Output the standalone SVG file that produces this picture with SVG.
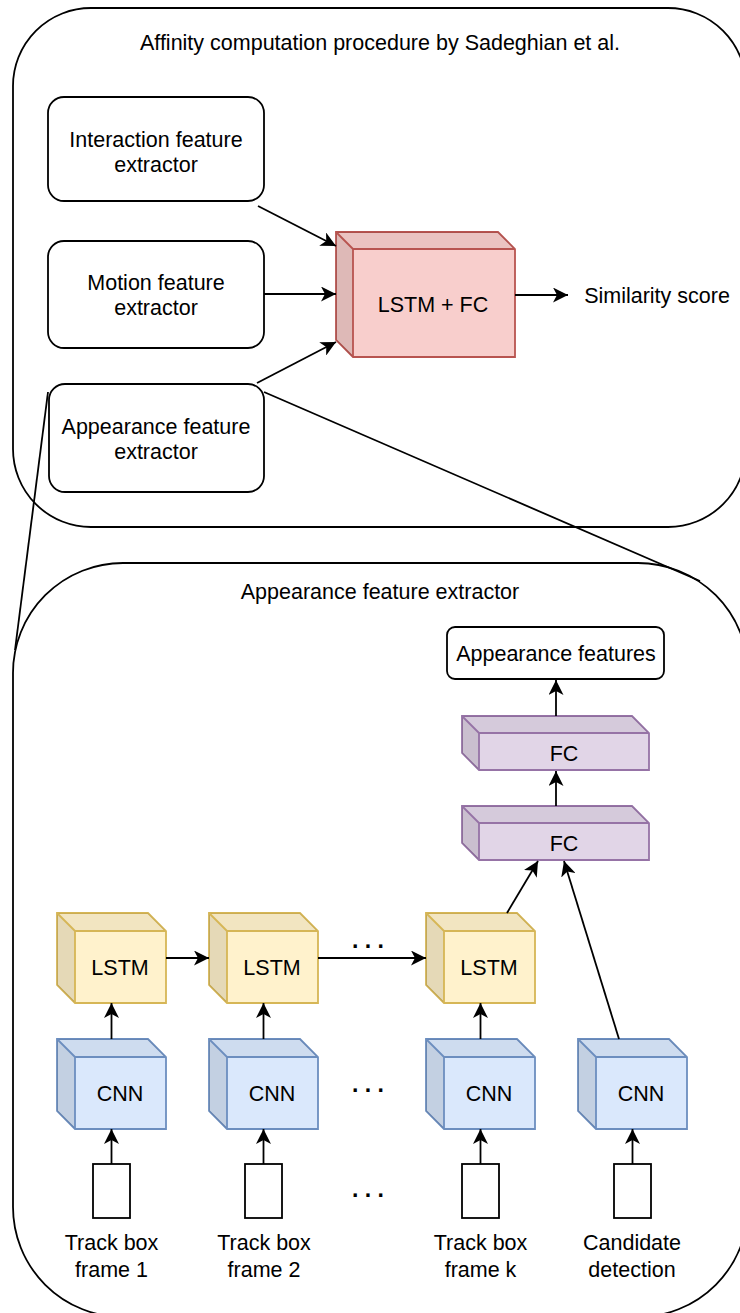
<svg xmlns="http://www.w3.org/2000/svg" xmlns:xlink="http://www.w3.org/1999/xlink" width="740" height="1313" viewBox="0 0 740 1313">
  <style>
    text { font-family: "Liberation Sans", Arial, sans-serif; font-size: 21.5px; fill: #000; text-anchor: middle; }
    .dots { font-weight: bold; font-size: 23px; }
    .container { fill: none; stroke: #000; stroke-width: 1.8; }
    .box { fill: #fff; stroke: #000; stroke-width: 1.8; }
    .edge { fill: none; stroke: #000; stroke-width: 1.8; }
    .arrow { marker-end: url(#arrowhead); }
    .red { fill: #f8cecc; stroke: #b85450; stroke-width: 1.8; }
    .purple { fill: #e1d5e7; stroke: #9673a6; stroke-width: 1.8; }
    .yellow { fill: #fff2cc; stroke: #d6b656; stroke-width: 1.8; }
    .blue { fill: #dae8fc; stroke: #6c8ebf; stroke-width: 1.8; }
  </style>
  <defs>
    <marker id="arrowhead" markerUnits="userSpaceOnUse" markerWidth="16" markerHeight="15" refX="15" refY="7.5" orient="auto">
      <path d="M0,0 L15,7.5 L0,15 L4,7.5 Z" fill="#000"/>
    </marker>
    <!-- small cube 109x90, depth 18 (LSTM / CNN blocks) -->
    <g id="cube-sm">
      <path d="M0,0 H91 L109,18 V90 H18 L0,72 Z"/>
      <path d="M0,0 L18,18 V90 L0,72 Z" fill="#000" fill-opacity="0.1" stroke="none"/>
      <path d="M0,0 H91 L109,18 H18 Z" fill="#000" fill-opacity="0.05" stroke="none"/>
      <path d="M0,0 L18,18 H109 M18,18 V90" fill="none"/>
    </g>
    <!-- flat cube 187x54, depth 17 (FC layers) -->
    <g id="cube-fc">
      <path d="M0,0 H170 L187,17 V54 H17 L0,37 Z"/>
      <path d="M0,0 L17,17 V54 L0,37 Z" fill="#000" fill-opacity="0.1" stroke="none"/>
      <path d="M0,0 H170 L187,17 H17 Z" fill="#000" fill-opacity="0.05" stroke="none"/>
      <path d="M0,0 L17,17 H187 M17,17 V54" fill="none"/>
    </g>
  </defs>

  <!-- upper panel: affinity computation -->
  <g id="affinity-panel">
    <rect class="container" x="13" y="8" width="733" height="519" rx="78" ry="78"/>
    <text x="380" y="50">Affinity computation procedure by Sadeghian et al.</text>
  </g>

  <g id="interaction-extractor">
    <rect class="box" x="48" y="97" width="216" height="104" rx="16" ry="16"/>
    <text x="156" y="147">Interaction feature</text>
    <text x="156" y="172">extractor</text>
  </g>

  <g id="motion-extractor">
    <rect class="box" x="48" y="241" width="216" height="107" rx="16" ry="16"/>
    <text x="156" y="290">Motion feature</text>
    <text x="156" y="315">extractor</text>
  </g>

  <g id="appearance-extractor">
    <rect class="box" x="49" y="384" width="215" height="108" rx="16" ry="16"/>
    <text x="156" y="434">Appearance feature</text>
    <text x="156" y="459">extractor</text>
  </g>

  <g id="lstm-fc">
    <path class="red" d="M336,232 H498 L515,249 V357 H353 L336,340 Z"/>
    <path d="M336,232 L353,249 V357 L336,340 Z" fill="#000" fill-opacity="0.1"/>
    <path d="M336,232 H498 L515,249 H353 Z" fill="#000" fill-opacity="0.05"/>
    <path d="M336,232 L353,249 H515 M353,249 V357" fill="none" stroke="#b85450" stroke-width="1.8"/>
    <text x="433" y="312">LSTM + FC</text>
  </g>

  <g id="similarity-score">
    <text x="657" y="303">Similarity score</text>
  </g>

  <!-- lower panel: appearance feature extractor -->
  <g id="appearance-panel">
    <rect class="container" x="13" y="563" width="735" height="754" rx="110" ry="110"/>
    <text x="380" y="599">Appearance feature extractor</text>
  </g>

  <g id="appearance-features">
    <rect class="box" x="447" y="627" width="217" height="52" rx="8" ry="8"/>
    <text x="556" y="661">Appearance features</text>
  </g>

  <g id="fc-top">
    <use xlink:href="#cube-fc" class="purple" x="462" y="716"/>
    <text x="564" y="761">FC</text>
  </g>
  <g id="fc-bottom">
    <use xlink:href="#cube-fc" class="purple" x="462" y="806"/>
    <text x="564" y="851">FC</text>
  </g>

  <g id="lstm-1">
    <use xlink:href="#cube-sm" class="yellow" x="57" y="913"/>
    <text x="120" y="975">LSTM</text>
  </g>
  <g id="lstm-2">
    <use xlink:href="#cube-sm" class="yellow" x="209" y="913"/>
    <text x="272" y="975">LSTM</text>
  </g>
  <g id="lstm-k">
    <use xlink:href="#cube-sm" class="yellow" x="426" y="913"/>
    <text x="489" y="975">LSTM</text>
  </g>

  <g id="cnn-1">
    <use xlink:href="#cube-sm" class="blue" x="57" y="1039"/>
    <text x="120" y="1101">CNN</text>
  </g>
  <g id="cnn-2">
    <use xlink:href="#cube-sm" class="blue" x="209" y="1039"/>
    <text x="272" y="1101">CNN</text>
  </g>
  <g id="cnn-k">
    <use xlink:href="#cube-sm" class="blue" x="426" y="1039"/>
    <text x="489" y="1101">CNN</text>
  </g>
  <g id="cnn-candidate">
    <use xlink:href="#cube-sm" class="blue" x="578" y="1039"/>
    <text x="641" y="1101">CNN</text>
  </g>

  <g id="track-box-1">
    <rect class="box" x="93" y="1164" width="37" height="54"/>
    <text x="111.5" y="1250">Track box</text>
    <text x="111.5" y="1277">frame 1</text>
  </g>
  <g id="track-box-2">
    <rect class="box" x="245" y="1164" width="37" height="54"/>
    <text x="264" y="1250">Track box</text>
    <text x="264" y="1277">frame 2</text>
  </g>
  <g id="track-box-k">
    <rect class="box" x="462" y="1164" width="37" height="54"/>
    <text x="480.5" y="1250">Track box</text>
    <text x="480.5" y="1277">frame k</text>
  </g>
  <g id="candidate-box">
    <rect class="box" x="614" y="1164" width="37" height="54"/>
    <text x="632" y="1250">Candidate</text>
    <text x="632" y="1277">detection</text>
  </g>

  <g id="ellipses">
    <text class="dots" x="368" y="948">. . .</text>
    <text class="dots" x="368" y="1092">. . .</text>
    <text class="dots" x="368" y="1197">. . .</text>
  </g>

  <g id="connectors">
    <line class="edge arrow" x1="258" y1="206" x2="336" y2="246"/>
    <line class="edge arrow" x1="264" y1="294" x2="336" y2="294"/>
    <line class="edge arrow" x1="257" y1="383" x2="336" y2="342"/>
    <line class="edge arrow" x1="515" y1="295" x2="568" y2="295"/>
    <!-- zoom lines from the appearance extractor to the detail panel -->
    <line class="edge" x1="48" y1="392" x2="15" y2="650"/>
    <line class="edge" x1="264" y1="392" x2="700" y2="581"/>
    <!-- detail panel -->
    <line class="edge arrow" x1="556" y1="716" x2="556" y2="680"/>
    <line class="edge arrow" x1="556" y1="806" x2="556" y2="771"/>
    <line class="edge arrow" x1="507" y1="913" x2="538" y2="861"/>
    <line class="edge arrow" x1="619" y1="1039" x2="564" y2="861"/>
    <line class="edge arrow" x1="166" y1="958" x2="209" y2="958"/>
    <line class="edge arrow" x1="318" y1="958" x2="426" y2="958"/>
    <line class="edge arrow" x1="111.5" y1="1039" x2="111.5" y2="1003"/>
    <line class="edge arrow" x1="263.5" y1="1039" x2="263.5" y2="1003"/>
    <line class="edge arrow" x1="480.5" y1="1039" x2="480.5" y2="1003"/>
    <line class="edge arrow" x1="111.5" y1="1164" x2="111.5" y2="1129"/>
    <line class="edge arrow" x1="263.5" y1="1164" x2="263.5" y2="1129"/>
    <line class="edge arrow" x1="480.5" y1="1164" x2="480.5" y2="1129"/>
    <line class="edge arrow" x1="632.5" y1="1164" x2="632.5" y2="1129"/>
  </g>
</svg>
